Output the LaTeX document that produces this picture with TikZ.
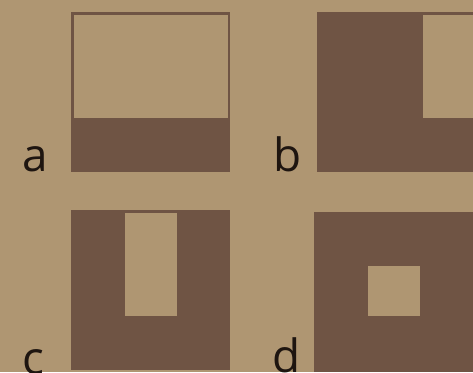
\documentclass[tikz,border=0pt]{standalone}
\usepackage{fontspec}
\setsansfont{Open Sans}
\definecolor{bg}{HTML}{AF9672}
\definecolor{dk}{HTML}{6F5444}
\definecolor{ink}{HTML}{1E1510}
\tikzset{
  darkfill/.style={fill=dk},
  lightfill/.style={fill=bg},
  lbl/.style={anchor=base west,inner sep=0pt,text=ink,font=\sffamily\fontsize{46}{46}\selectfont}
}
\begin{document}
\begin{tikzpicture}[x=1bp,y=-1bp]
\fill[bg] (0,0) rectangle (473,372);
\useasboundingbox (0,0) rectangle (473,372);
% a
\fill[darkfill] (71,12) rectangle (230,172);
\fill[lightfill] (73.5,14.5) rectangle (228,118);
\node[lbl] (la) at (22.5,171) {a};
% b
\fill[darkfill] (317,12) rectangle (473,172);
\fill[lightfill] (423,15) rectangle (473,118);
\node[lbl] (lb) at (273.5,171) {b};
% c
\fill[darkfill] (71,210) rectangle (230,370);
\fill[lightfill] (125,213) rectangle (177,316);
\node[lbl] (lc) at (22.5,374) {c};
% d
\fill[darkfill] (314,212) rectangle (473,372);
\fill[lightfill] (368,266) rectangle (420,316);
\node[lbl] (ld) at (272.5,372) {d};
\end{tikzpicture}
\end{document}
